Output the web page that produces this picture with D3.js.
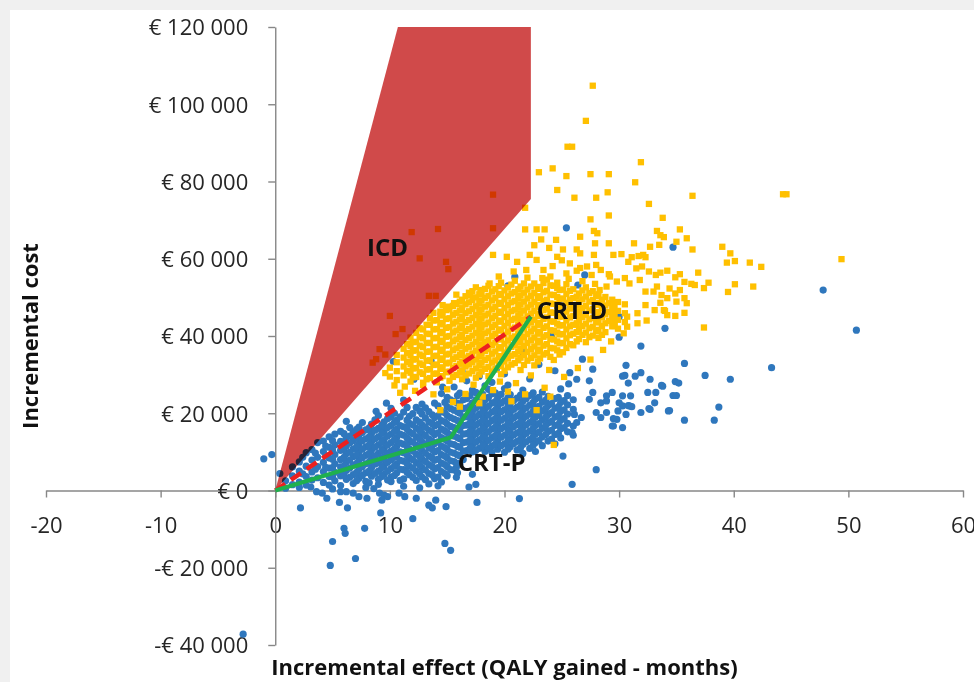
<!DOCTYPE html>
<html>
<head>
<meta charset="utf-8">
<script src="https://cdn.jsdelivr.net/npm/d3@7"></script>
<style>
  html, body { margin: 0; padding: 0; background: #f0f0f0; }
  svg { display: block; }
  text { font-family: "Open Sans", sans-serif; }
</style>
</head>
<body>
<svg id="chart" width="974" height="682"></svg>
<script>
// Axis ticks
const xTicks = [-20, -10, 0, 10, 20, 30, 40, 50, 60];
const yTicks = [-40000, -20000, 0, 20000, 40000, 60000, 80000, 100000, 120000];

// Probabilistic simulations, [incremental effect (months), incremental cost (k€)]
const crtpSims = [
  [-1.0,8.2],[-0.3,9.3],[0.4,4.4],[-2.8,-37.2],
  [2.2,-4.5],[3.6,-0.3],[4.1,-0.7],[4.5,-2.0],[5.6,-3.1],[6.3,-4.5],[5.7,-0.3],[6.2,-0.3],[6.8,-0.7],
  [7.3,-1.6],[8.0,-2.0],[9.1,-0.7],[9.5,-1.2],[9.8,-1.6],[9.3,-2.5],[9.2,-5.8],[10.8,-0.7],[11.3,-1.6],
  [12.3,-2.0],[12.0,-7.3],[13.4,-3.8],[13.7,-4.5],[14.0,-2.5],[14.9,-4.2],[17.6,-3.1],[21.3,-2.1],
  [5.0,-13.2],[6.0,-9.8],[6.1,-11.1],[7.8,-9.8],[7.0,-17.6],[4.8,-19.4],[14.8,-13.7],[15.3,-15.5],
  [3.1,0.9],[5.0,0.4],[8.6,0.5],[12.6,0.7],[14.2,1.2],[16.9,0.9],[17.5,1.6],[15.8,3.4],[15.8,6.0],
  [17.2,4.2],[25.9,1.6],[28.0,5.4],[25.1,8.9],
  [0.9,2.5],[0.9,0.6],[1.5,3.8],[1.5,1.5],[1.5,6.1],
  [2.1,2.2],[2.1,5.0],[2.1,0.8],[2.1,7.4],[2.7,3.6],[2.7,6.3],[2.7,1.4],[2.7,9.8],
  [3.2,4.8],[3.2,2.7],[3.2,7.9],[3.2,10.6],[3.7,3.3],[3.7,6.2],[3.7,8.6],[3.7,12.4],
  [4.2,4.9],[4.2,7.3],[4.2,2.1],[4.2,10.1],[4.2,12.8],
  [4.7,3.6],[4.7,5.8],[4.7,8.4],[4.7,11.2],[4.7,1.4],[4.7,13.9],
  [5.2,2.5],[5.2,4.7],[5.2,6.9],[5.2,9.3],[5.2,11.8],[5.2,14.6],
  [5.7,1.3],[5.7,3.8],[5.7,6.1],[5.7,8.0],[5.7,10.4],[5.7,12.7],[5.7,15.3],
  [6.2,2.9],[6.2,5.2],[6.2,7.4],[6.2,9.6],[6.2,11.5],[6.2,13.8],[6.2,17.9],
  [6.8,1.8],[6.8,4.1],[6.8,6.6],[6.8,8.8],[6.8,10.7],[6.8,12.9],[6.8,15.2],
  [7.3,3.2],[7.3,5.5],[7.3,7.8],[7.3,9.9],[7.3,12.1],[7.3,14.3],[7.3,16.4],
  [7.9,0.8],[7.9,2.4],[7.9,4.6],[7.9,6.9],[7.9,9.1],[7.9,11.3],[7.9,13.4],[7.9,15.7],
  [8.4,3.7],[8.4,5.9],[8.4,8.2],[8.4,10.5],[8.4,12.6],[8.4,14.8],[8.4,17.2],
  [9.0,1.6],[9.0,2.9],[9.0,5.0],[9.0,7.3],[9.0,9.6],[9.0,11.8],[9.0,13.9],[9.0,16.1],[9.0,19.4],
  [9.5,4.2],[9.5,6.5],[9.5,8.7],[9.5,10.9],[9.5,13.2],[9.5,15.4],[9.5,17.8],
  [10.1,2.3],[10.1,3.5],[10.1,5.7],[10.1,7.9],[10.1,10.2],[10.1,12.4],[10.1,14.6],[10.1,16.8],[10.1,19.1],[10.1,21.3],
  [10.6,4.6],[10.6,6.9],[10.6,9.2],[10.6,11.5],[10.6,13.7],[10.6,15.9],[10.6,18.2],
  [11.2,1.1],[11.2,3.0],[11.2,5.4],[11.2,7.6],[11.2,9.8],[11.2,12.0],[11.2,14.3],[11.2,16.5],[11.2,20.3],[11.2,23.4],
  [11.7,4.1],[11.7,6.3],[11.7,8.5],[11.7,10.8],[11.7,13.0],[11.7,15.2],[11.7,17.4],[11.7,19.2],
  [12.3,2.6],[12.3,5.0],[12.3,7.2],[12.3,9.4],[12.3,11.7],[12.3,13.9],[12.3,16.1],[12.3,18.3],[12.3,21.5],
  [12.8,3.5],[12.8,5.9],[12.8,8.1],[12.8,10.3],[12.8,12.6],[12.8,14.8],[12.8,17.0],[12.8,19.8],[12.8,22.4],
  [13.4,1.7],[13.4,4.4],[13.4,6.7],[13.4,8.9],[13.4,11.1],[13.4,13.4],[13.4,15.6],[13.4,17.8],[13.4,20.4],
  [13.9,3.1],[13.9,5.6],[13.9,7.8],[13.9,10.0],[13.9,12.2],[13.9,14.5],[13.9,16.7],[13.9,18.9],[13.9,22.6],
  [14.5,2.2],[14.5,4.9],[14.5,7.1],[14.5,9.3],[14.5,11.5],[14.5,13.7],[14.5,15.9],[14.5,18.1],[14.5,20.5],[14.5,25.1],
  [15.0,3.8],[15.0,6.2],[15.0,8.4],[15.0,10.6],[15.0,12.8],[15.0,15.0],[15.0,17.2],[15.0,19.4],[15.0,21.7],[15.0,24.1],
  [15.6,5.3],[15.6,7.5],[15.6,9.7],[15.6,11.9],[15.6,14.1],[15.6,16.3],[15.6,18.5],[15.6,20.8],[15.6,23.0],[15.6,26.8],
  [16.1,6.8],[16.1,9.0],[16.1,11.2],[16.1,13.4],[16.1,15.6],[16.1,17.8],[16.1,20.0],[16.1,22.3],[16.1,25.2],
  [16.7,10.3],[16.7,12.5],[16.7,14.7],[16.7,16.9],[16.7,19.1],[16.7,21.4],[16.7,23.8],[16.7,28.4],
  [17.2,10.0],[17.2,11.6],[17.2,13.8],[17.2,16.0],[17.2,18.2],[17.2,20.4],[17.2,22.7],[17.2,26.0],
  [17.8,10.9],[17.8,13.1],[17.8,15.3],[17.8,17.5],[17.8,19.7],[17.8,21.9],[17.8,24.3],[17.8,29.6],
  [18.3,10.1],[18.3,12.3],[18.3,14.5],[18.3,16.7],[18.3,18.9],[18.3,21.1],[18.3,23.4],[18.3,27.1],
  [18.9,9.9],[18.9,11.5],[18.9,13.7],[18.9,15.9],[18.9,18.1],[18.9,20.3],[18.9,22.6],[18.9,25.0],[18.9,28.0],
  [19.4,10.7],[19.4,12.9],[19.4,15.1],[19.4,17.3],[19.4,19.5],[19.4,21.7],[19.4,24.0],
  [20.0,9.9],[20.0,12.1],[20.0,14.3],[20.0,16.5],[20.0,18.7],[20.0,20.9],[20.0,23.2],[20.0,26.4],[20.0,30.2],
  [20.5,11.3],[20.5,13.5],[20.5,15.7],[20.5,17.9],[20.5,20.1],[20.5,22.4],[20.5,24.8],
  [21.1,10.5],[21.1,12.7],[21.1,14.9],[21.1,17.1],[21.1,19.3],[21.1,21.6],[21.1,23.9],
  [21.6,9.6],[21.6,11.9],[21.6,14.1],[21.6,16.3],[21.6,18.5],[21.6,20.8],[21.6,23.1],[21.6,26.0],
  [22.2,10.9],[22.2,13.2],[22.2,15.4],[22.2,17.6],[22.2,19.8],[22.2,22.1],[22.2,24.6],[22.2,28.9],
  [22.7,10.1],[22.7,12.4],[22.7,14.6],[22.7,16.8],[22.7,19.0],[22.7,21.3],[22.7,23.7],
  [23.3,11.6],[23.3,13.9],[23.3,16.1],[23.3,18.3],[23.3,20.6],[23.3,22.9],[23.3,25.5],
  [23.8,12.8],[23.8,15.3],[23.8,17.5],[23.8,19.7],[23.8,22.0],[23.8,24.4],
  [24.4,12.1],[24.4,14.5],[24.4,16.8],[24.4,19.0],[24.4,21.3],[24.4,23.8],[24.4,31.0],
  [24.9,13.6],[24.9,16.0],[24.9,18.2],[24.9,20.5],[24.9,22.8],[24.9,26.3],
  [25.5,15.2],[25.5,17.4],[25.5,19.8],[25.5,22.2],[25.5,24.6],
  [26.0,14.3],[26.0,16.7],[26.0,21.0],[26.0,23.5],
  [2.4,4.3],[2.4,8.6],[3.5,5.5],[3.5,9.7],[4.4,6.0],[4.4,9.0],[4.4,11.5],
  [5.0,3.5],[5.0,5.9],[5.0,8.1],[5.0,10.5],[5.0,12.9],
  [6.0,4.1],[6.0,6.3],[6.0,8.6],[6.0,10.9],[6.0,12.6],[6.0,14.7],
  [6.5,3.4],[6.5,5.8],[6.5,7.9],[6.5,9.9],[6.5,12.3],[6.5,14.1],[6.5,16.3],
  [7.1,2.5],[7.1,4.7],[7.1,7.0],[7.1,9.1],[7.1,11.3],[7.1,13.6],[7.1,15.8],
  [7.6,3.9],[7.6,6.2],[7.6,8.5],[7.6,10.7],[7.6,12.9],[7.6,15.0],[7.6,17.6],
  [8.2,2.0],[8.2,5.1],[8.2,7.4],[8.2,9.6],[8.2,11.8],[8.2,13.9],[8.2,16.2],
  [8.7,4.4],[8.7,6.8],[8.7,9.0],[8.7,11.2],[8.7,13.4],[8.7,15.6],[8.7,18.3],
  [9.3,3.6],[9.3,5.9],[9.3,8.1],[9.3,10.3],[9.3,12.5],[9.3,14.8],[9.3,16.9],
  [9.8,2.7],[9.8,5.0],[9.8,7.3],[9.8,9.6],[9.8,11.8],[9.8,14.1],[9.8,16.3],[9.8,18.6],
  [10.4,3.9],[10.4,6.3],[10.4,8.6],[10.4,10.8],[10.4,13.1],[10.4,15.3],[10.4,17.6],[10.4,20.0],
  [10.9,2.6],[10.9,5.5],[10.9,7.8],[10.9,10.0],[10.9,12.3],[10.9,14.6],[10.9,16.8],[10.9,19.1],
  [11.5,4.7],[11.5,7.0],[11.5,9.2],[11.5,11.4],[11.5,13.6],[11.5,15.9],[11.5,18.2],[11.5,21.5],
  [12.0,3.4],[12.0,5.8],[12.0,8.0],[12.0,10.2],[12.0,12.5],[12.0,14.7],[12.0,17.0],[12.0,19.9],
  [12.6,4.3],[12.6,6.6],[12.6,8.8],[12.6,11.1],[12.6,13.3],[12.6,15.5],[12.6,17.7],[12.6,20.6],
  [13.1,2.8],[13.1,5.3],[13.1,7.5],[13.1,9.7],[13.1,12.0],[13.1,14.2],[13.1,16.4],[13.1,18.8],[13.1,21.4],
  [13.7,4.0],[13.7,6.2],[13.7,8.4],[13.7,10.6],[13.7,12.8],[13.7,15.1],[13.7,17.3],[13.7,19.6],
  [14.2,3.5],[14.2,5.9],[14.2,8.1],[14.2,10.3],[14.2,12.6],[14.2,14.9],[14.2,17.1],[14.2,19.3],[14.2,21.9],
  [14.8,4.4],[14.8,6.7],[14.8,8.9],[14.8,11.1],[14.8,13.3],[14.8,15.5],[14.8,17.8],[14.8,20.1],[14.8,22.8],
  [15.3,5.4],[15.3,7.7],[15.3,9.9],[15.3,12.1],[15.3,14.4],[15.3,16.6],[15.3,18.9],[15.3,21.2],[15.3,23.5],
  [15.9,4.6],[15.9,7.0],[15.9,9.2],[15.9,11.4],[15.9,13.7],[15.9,15.9],[15.9,18.1],[15.9,20.4],[15.9,22.6],[15.9,24.6],
  [16.4,8.0],[16.4,10.2],[16.4,12.4],[16.4,14.6],[16.4,16.8],[16.4,19.0],[16.4,21.2],[16.4,23.5],
  [17.0,11.0],[17.0,13.1],[17.0,15.3],[17.0,17.5],[17.0,19.7],[17.0,21.9],[17.0,24.6],
  [17.5,10.4],[17.5,12.5],[17.5,14.7],[17.5,16.9],[17.5,19.1],[17.5,21.3],[17.5,23.5],[17.5,25.4],
  [18.1,11.6],[18.1,13.8],[18.1,16.0],[18.1,18.2],[18.1,20.4],[18.1,22.6],[18.1,24.9],
  [18.6,10.9],[18.6,13.0],[18.6,15.2],[18.6,17.4],[18.6,19.6],[18.6,21.8],[18.6,24.1],[18.6,26.2],
  [19.2,12.0],[19.2,14.2],[19.2,16.4],[19.2,18.6],[19.2,20.8],[19.2,23.0],[19.2,25.3],
  [19.7,11.6],[19.7,13.8],[19.7,16.0],[19.7,18.2],[19.7,20.4],[19.7,22.6],[19.7,24.9],
  [20.3,10.7],[20.3,12.9],[20.3,15.1],[20.3,17.3],[20.3,19.5],[20.3,21.7],[20.3,24.0],[20.3,27.3],
  [20.8,12.2],[20.8,14.4],[20.8,16.6],[20.8,18.8],[20.8,21.0],[20.8,23.3],
  [21.4,11.1],[21.4,13.3],[21.4,15.5],[21.4,17.7],[21.4,19.9],[21.4,22.2],[21.4,24.7],
  [21.9,12.6],[21.9,14.8],[21.9,17.0],[21.9,19.2],[21.9,21.4],[21.9,23.8],
  [22.5,11.7],[22.5,13.9],[22.5,16.1],[22.5,18.3],[22.5,20.5],[22.5,22.8],[22.5,25.3],
  [23.0,12.9],[23.0,15.1],[23.0,17.3],[23.0,19.5],[23.0,21.8],[23.0,24.1],
  [23.6,14.5],[23.6,16.8],[23.6,19.0],[23.6,21.2],[23.6,23.4],
  [24.1,13.3],[24.1,15.6],[24.1,17.9],[24.1,20.2],[24.1,22.5],
  [24.7,14.8],[24.7,17.1],[24.7,19.4],[24.7,21.7],[24.7,24.1],
  [25.2,16.3],[25.2,18.6],[25.2,20.9],[25.2,23.3],
  [26.8,34.0],[27.7,31.4],[30.6,32.4],[31.9,30.5],[31.4,29.6],[32.7,28.8],[30.3,29.6],[33.8,27.0],
  [29.4,25.4],[32.5,25.4],[33.2,25.4],[31.0,24.5],[34.3,20.6],[32.7,21.0],[31.9,20.2],[30.3,21.9],
  [30.9,21.9],[29.8,18.4],[29.4,16.7],[30.3,16.3],[27.7,25.4],[28.9,24.5],[28.4,22.7],[27.4,23.6],
  [28.0,20.2],[28.9,20.2],[28.4,18.9],[27.4,28.4],[26.3,28.8],[25.7,30.5],[26.1,19.7],[26.7,18.9],
  [26.3,17.6],[25.9,15.0],
  [34.7,63.0],[47.8,51.9],[50.7,41.5],[43.3,31.8],[34.0,42.0],[31.9,37.4],[30.0,45.0],[35.7,32.9],
  [37.5,29.8],[39.7,28.8],[30.5,29.8],[30.8,27.8],[33.7,27.2],[34.9,28.2],[35.2,27.8],[34.7,24.6],
  [35.0,24.6],[33.1,22.7],[32.6,21.2],[34.4,20.7],[30.3,24.5],[30.0,22.7],[30.8,22.0],[31.1,21.7],
  [28.9,23.2],[29.5,18.6],[29.5,16.7],[35.7,18.2],[38.3,18.2],[38.7,21.6],[29.9,20.6],[30.6,19.7],
  [25.4,68.0],[27.0,55.8],[30.0,39.7],[20.9,55.3],[20.3,53.0],[26.4,53.2],[24.1,40.0],[10.3,33.4],
  [8.8,20.5],[9.7,22.6],[12.1,28.8],[13.6,33.5],[14.6,26.8],[16.3,30.9],[19.3,31.5],[21.6,35.8],
  [23.0,32.6],[25.6,27.6]
];

const crtdSims = [
  // dense core
  [10.0,29.5],[10.0,31.8],
  [10.6,28.6],[10.6,30.9],[10.6,33.2],[10.6,35.1],
  [11.2,29.8],[11.2,32.1],[11.2,34.4],[11.2,36.7],
  [11.8,28.2],[11.8,30.5],[11.8,32.8],[11.8,35.0],[11.8,37.4],[11.8,39.6],
  [12.3,29.4],[12.3,31.7],[12.3,34.0],[12.3,36.3],[12.3,38.5],[12.3,40.8],
  [12.9,27.9],[12.9,30.2],[12.9,32.5],[12.9,34.8],[12.9,37.1],[12.9,39.4],[12.9,41.7],
  [13.5,29.1],[13.5,31.4],[13.5,33.7],[13.5,36.0],[13.5,38.2],[13.5,40.5],[13.5,42.9],[13.5,44.6],
  [14.1,28.0],[14.1,30.3],[14.1,32.6],[14.1,34.9],[14.1,37.2],[14.1,39.5],[14.1,41.8],[14.1,44.1],
  [14.6,29.6],[14.6,31.9],[14.6,34.2],[14.6,36.5],[14.6,38.8],[14.6,41.1],[14.6,43.4],[14.6,45.8],[14.6,48.0],
  [15.2,28.4],[15.2,30.8],[15.2,33.1],[15.2,35.4],[15.2,37.7],[15.2,40.0],[15.2,42.3],[15.2,44.6],[15.2,46.9],
  [15.8,29.9],[15.8,32.2],[15.8,34.5],[15.8,36.8],[15.8,39.1],[15.8,41.4],[15.8,43.7],[15.8,46.0],[15.8,48.3],[15.8,50.7],
  [16.3,28.8],[16.3,31.1],[16.3,33.4],[16.3,35.7],[16.3,38.0],[16.3,40.3],[16.3,42.6],[16.3,44.9],[16.3,47.2],[16.3,49.4],
  [16.9,30.3],[16.9,32.6],[16.9,34.9],[16.9,37.2],[16.9,39.5],[16.9,41.8],[16.9,44.1],[16.9,46.4],[16.9,48.7],[16.9,51.2],
  [17.5,29.2],[17.5,31.6],[17.5,33.9],[17.5,36.2],[17.5,38.5],[17.5,40.8],[17.5,43.1],[17.5,45.4],[17.5,47.7],[17.5,50.0],[17.5,52.6],
  [18.0,30.8],[18.0,33.1],[18.0,35.4],[18.0,37.7],[18.0,40.0],[18.0,42.3],[18.0,44.6],[18.0,46.9],[18.0,49.2],[18.0,51.4],
  [18.6,29.6],[18.6,32.0],[18.6,34.3],[18.6,36.6],[18.6,38.9],[18.6,41.2],[18.6,43.5],[18.6,45.8],[18.6,48.1],[18.6,50.4],[18.6,53.0],
  [19.2,31.4],[19.2,33.7],[19.2,36.0],[19.2,38.3],[19.2,40.6],[19.2,42.9],[19.2,45.2],[19.2,47.5],[19.2,49.8],[19.2,52.1],
  [19.7,30.1],[19.7,32.5],[19.7,34.8],[19.7,37.1],[19.7,39.4],[19.7,41.7],[19.7,44.0],[19.7,46.3],[19.7,48.6],[19.7,50.9],[19.7,53.8],
  [20.3,31.9],[20.3,34.2],[20.3,36.5],[20.3,38.8],[20.3,41.1],[20.3,43.4],[20.3,45.7],[20.3,48.0],[20.3,50.3],[20.3,52.6],
  [20.9,33.0],[20.9,35.3],[20.9,37.6],[20.9,39.9],[20.9,42.2],[20.9,44.5],[20.9,46.8],[20.9,49.1],[20.9,51.4],[20.9,54.3],
  [21.4,31.2],[21.4,34.4],[21.4,36.7],[21.4,39.0],[21.4,41.3],[21.4,43.6],[21.4,45.9],[21.4,48.2],[21.4,50.5],[21.4,52.8],
  [22.0,33.6],[22.0,35.9],[22.0,38.2],[22.0,40.5],[22.0,42.8],[22.0,45.1],[22.0,47.4],[22.0,49.7],[22.0,52.0],[22.0,55.1],
  [22.6,32.4],[22.6,35.0],[22.6,37.3],[22.6,39.6],[22.6,41.9],[22.6,44.2],[22.6,46.5],[22.6,48.8],[22.6,51.1],[22.6,53.6],
  [23.1,34.2],[23.1,36.5],[23.1,38.8],[23.1,41.1],[23.1,43.4],[23.1,45.7],[23.1,48.0],[23.1,50.3],[23.1,52.7],
  [23.7,35.6],[23.7,37.9],[23.7,40.2],[23.7,42.5],[23.7,44.8],[23.7,47.1],[23.7,49.4],[23.7,51.7],[23.7,54.6],
  [24.3,33.8],[24.3,36.8],[24.3,39.1],[24.3,41.4],[24.3,43.7],[24.3,46.0],[24.3,48.3],[24.3,50.6],[24.3,53.0],
  [24.8,35.2],[24.8,38.1],[24.8,40.4],[24.8,42.7],[24.8,45.0],[24.8,47.3],[24.8,49.6],[24.8,51.9],
  [25.4,36.9],[25.4,39.4],[25.4,41.7],[25.4,44.0],[25.4,46.3],[25.4,48.6],[25.4,50.9],[25.4,53.4],
  [26.0,37.6],[26.0,40.6],[26.0,42.9],[26.0,45.2],[26.0,47.5],[26.0,49.8],[26.0,52.1],
  [26.5,39.2],[26.5,41.8],[26.5,44.1],[26.5,46.4],[26.5,48.7],[26.5,51.0],
  [27.1,38.4],[27.1,40.9],[27.1,43.2],[27.1,45.5],[27.1,47.8],[27.1,50.2],[27.1,52.6],
  [27.7,40.1],[27.7,42.4],[27.7,44.7],[27.7,47.0],[27.7,49.3],[27.7,51.6],
  [28.2,39.5],[28.2,41.6],[28.2,43.9],[28.2,46.2],[28.2,48.5],[28.2,50.8],
  [28.8,41.0],[28.8,43.3],[28.8,45.6],[28.8,47.9],[28.8,50.1],
  [29.4,42.5],[29.4,44.8],[29.4,47.1],[29.4,49.4],
  [29.9,41.9],[29.9,44.2],[29.9,46.5],[29.9,48.8],
  [30.5,43.6],[30.5,45.9],[30.5,48.2],
  [11.5,31.0],[11.5,33.3],[11.5,35.6],[11.5,37.9],
  [12.0,29.3],[12.0,31.6],[12.0,33.9],[12.0,36.2],[12.0,38.4],
  [12.6,30.6],[12.6,32.9],[12.6,35.2],[12.6,37.5],[12.6,39.7],[12.6,42.0],
  [13.2,28.8],[13.2,31.3],[13.2,33.6],[13.2,35.9],[13.2,38.2],[13.2,40.6],[13.2,42.9],
  [13.8,30.2],[13.8,32.5],[13.8,34.8],[13.8,37.1],[13.8,39.4],[13.8,41.7],[13.8,44.0],[13.8,46.0],
  [14.4,29.2],[14.4,31.5],[14.4,33.8],[14.4,36.1],[14.4,38.4],[14.4,40.7],[14.4,43.0],[14.4,45.3],
  [14.9,30.6],[14.9,32.9],[14.9,35.2],[14.9,37.5],[14.9,39.8],[14.9,42.1],[14.9,44.4],[14.9,46.7],
  [15.5,29.4],[15.5,31.7],[15.5,34.0],[15.5,36.3],[15.5,38.6],[15.5,40.9],[15.5,43.2],[15.5,45.5],[15.5,47.8],
  [16.1,30.5],[16.1,32.8],[16.1,35.1],[16.1,37.4],[16.1,39.7],[16.1,42.0],[16.1,44.3],[16.1,46.6],[16.1,48.9],
  [16.6,29.8],[16.6,32.1],[16.6,34.4],[16.6,36.7],[16.6,39.0],[16.6,41.3],[16.6,43.6],[16.6,45.9],[16.6,48.2],[16.6,50.3],
  [17.2,30.9],[17.2,33.2],[17.2,35.5],[17.2,37.8],[17.2,40.1],[17.2,42.4],[17.2,44.7],[17.2,47.0],[17.2,49.3],[17.2,51.6],
  [17.8,30.0],[17.8,32.4],[17.8,34.7],[17.8,37.0],[17.8,39.3],[17.8,41.6],[17.8,43.9],[17.8,46.2],[17.8,48.5],[17.8,50.8],
  [18.3,31.5],[18.3,33.8],[18.3,36.1],[18.3,38.4],[18.3,40.7],[18.3,43.0],[18.3,45.3],[18.3,47.6],[18.3,49.9],[18.3,52.2],
  [18.9,30.8],[18.9,33.1],[18.9,35.4],[18.9,37.7],[18.9,40.0],[18.9,42.3],[18.9,44.6],[18.9,46.9],[18.9,49.2],[18.9,51.5],
  [19.5,32.2],[19.5,34.5],[19.5,36.8],[19.5,39.1],[19.5,41.4],[19.5,43.7],[19.5,46.0],[19.5,48.3],[19.5,50.6],[19.5,52.9],
  [20.0,31.0],[20.0,33.4],[20.0,35.7],[20.0,38.0],[20.0,40.3],[20.0,42.6],[20.0,44.9],[20.0,47.2],[20.0,49.5],[20.0,51.8],
  [20.6,32.6],[20.6,34.9],[20.6,37.2],[20.6,39.5],[20.6,41.8],[20.6,44.1],[20.6,46.4],[20.6,48.7],[20.6,51.0],[20.6,53.3],
  [21.2,33.7],[21.2,36.0],[21.2,38.3],[21.2,40.6],[21.2,42.9],[21.2,45.2],[21.2,47.5],[21.2,49.8],[21.2,52.1],
  [21.7,32.5],[21.7,35.1],[21.7,37.4],[21.7,39.7],[21.7,42.0],[21.7,44.3],[21.7,46.6],[21.7,48.9],[21.7,51.2],[21.7,53.6],
  [22.3,34.3],[22.3,36.6],[22.3,38.9],[22.3,41.2],[22.3,43.5],[22.3,45.8],[22.3,48.1],[22.3,50.4],[22.3,52.8],
  [22.9,33.4],[22.9,36.0],[22.9,38.3],[22.9,40.6],[22.9,42.9],[22.9,45.2],[22.9,47.5],[22.9,49.8],[22.9,52.2],
  [23.4,35.2],[23.4,37.5],[23.4,39.8],[23.4,42.1],[23.4,44.4],[23.4,46.7],[23.4,49.0],[23.4,51.3],[23.4,53.7],
  [24.0,34.6],[24.0,36.9],[24.0,39.2],[24.0,41.5],[24.0,43.8],[24.0,46.1],[24.0,48.4],[24.0,50.7],[24.0,53.1],
  [24.6,36.3],[24.6,38.6],[24.6,40.9],[24.6,43.2],[24.6,45.5],[24.6,47.8],[24.6,50.1],[24.6,52.4],
  [25.1,35.8],[25.1,38.2],[25.1,40.5],[25.1,42.8],[25.1,45.1],[25.1,47.4],[25.1,49.7],[25.1,52.0],
  [25.7,37.9],[25.7,40.2],[25.7,42.5],[25.7,44.8],[25.7,47.1],[25.7,49.4],[25.7,51.7],
  [26.3,38.6],[26.3,41.0],[26.3,43.3],[26.3,45.6],[26.3,47.9],[26.3,50.2],
  [26.8,40.3],[26.8,42.6],[26.8,44.9],[26.8,47.2],[26.8,49.5],[26.8,51.8],
  [27.4,39.7],[27.4,42.0],[27.4,44.3],[27.4,46.6],[27.4,48.9],[27.4,51.1],
  [28.0,41.2],[28.0,43.5],[28.0,45.8],[28.0,48.1],[28.0,50.3],
  [28.5,40.3],[28.5,42.6],[28.5,44.9],[28.5,47.2],[28.5,49.4],
  [29.1,43.9],[29.1,46.2],[29.1,48.5],
  [29.6,43.4],[29.6,45.7],[29.6,48.0],
  // lower fringe mixed with CRT-P
  [12.2,25.8],[12.9,27.3],[13.8,24.9],[14.4,20.8],[15.5,22.9],[16.1,21.7],[15.0,26.2],[16.6,25.0],
  [17.3,27.4],[18.1,24.3],[19.0,26.0],[20.3,25.6],[19.6,28.2],[21.0,27.8],[21.8,24.9],[22.8,20.8],
  [23.5,26.6],[24.0,24.3],[24.3,11.8],[25.2,29.4],[26.4,31.7],[27.5,33.9],[28.6,36.4],[29.3,38.6],
  [23.9,31.2],[22.3,29.8],[20.6,23.1],[17.8,22.6],[11.3,26.9],[10.4,27.2],[9.6,30.4],[10.9,25.3],
  // upper and right spread
  [19.0,61.0],[20.2,60.5],[21.1,59.2],[22.2,61.0],[22.8,59.7],[23.4,57.1],[24.6,60.5],[25.7,58.8],
  [26.6,61.4],[25.4,56.2],[24.0,55.4],[21.9,57.1],[20.8,56.7],[19.5,55.4],[18.7,53.6],[17.9,51.9],
  [17.0,50.6],[15.6,48.5],[15.0,47.6],[14.4,46.3],
  [22.6,63.5],[23.2,65.0],[23.9,62.8],[24.5,64.9],[24.2,58.1],[25.0,59.6],[26.3,56.9],[27.6,55.8],
  [28.4,57.1],[26.8,54.2],[27.9,53.5],[29.1,56.0],[25.6,54.8],[24.6,53.8],[23.3,55.0],
  [33.9,65.6],[35.0,64.4],[36.4,62.4],[39.0,63.1],[39.7,61.4],[39.4,59.0],[40.1,59.4],[41.4,59.0],
  [42.4,57.9],[41.7,52.8],[40.1,53.4],[39.5,51.4],[37.8,53.8],[36.9,56.4],[37.4,52.4],[37.4,42.2],
  [34.9,45.2],[35.7,46.0],[36.3,53.5],[36.6,53.2],[27.9,64.0],[29.1,64.0],[31.3,64.0],[32.7,63.1],
  [33.5,63.6],[25.1,62.4],[26.3,62.4],[27.8,61.0],[29.5,61.0],[30.2,61.2],[31.1,60.4],[31.7,60.7],
  [32.3,60.4],[26.6,57.6],[27.2,58.0],[28.0,58.4],[30.8,59.2],[31.5,57.5],[32.0,58.0],[32.6,56.7],
  [33.2,55.8],[33.6,56.4],[34.2,56.9],[34.9,55.2],[35.3,56.0],[29.2,55.4],[29.8,54.1],[30.5,55.0],
  [30.9,53.6],[28.9,52.8],[28.3,51.9],[31.8,54.5],[32.3,51.5],[33.0,51.5],[33.3,52.8],[33.7,50.6],
  [34.4,52.3],[34.2,49.8],[34.9,51.0],[35.0,48.9],[35.7,49.8],[35.9,48.5],[32.3,48.0],[33.1,46.7],
  [33.9,46.7],[34.2,45.4],[31.6,45.9],[30.7,45.0],[31.6,43.3],[30.7,42.4],[32.4,44.0],[30.4,40.7],
  [29.6,42.6],[49.4,59.9],[35.7,54.0],[35.3,51.9],[34.0,46.5],[33.6,48.6],[32.1,61.0],
  [27.7,104.8],[27.1,95.7],[25.5,89.0],[25.9,89.0],[23.0,82.4],[24.2,83.4],[25.4,81.4],[27.5,81.9],
  [29.1,81.9],[31.9,85.0],[31.4,79.8],[24.6,77.8],[26.1,75.8],[28.0,75.8],[29.0,77.2],[36.4,76.3],
  [32.6,74.2],[44.3,76.7],[44.6,76.7],[21.8,73.2],[27.5,70.2],[29.1,71.2],[33.8,70.6],[21.8,67.6],
  [22.8,67.6],[23.5,67.6],[26.6,65.7],[27.8,67.2],[28.1,66.6],[33.3,67.2],[33.6,66.1],[35.3,67.6],
  [35.9,65.3],
  // inside the ICD region
  [19.0,76.6],[14.2,67.7],[11.9,66.9],[19.0,67.9],[12.6,60.1],[14.9,59.2],[15.1,57.3],[14.0,50.4],
  [13.4,50.4],[10.0,45.2],[11.1,41.8],[10.5,40.5],[8.5,33.1],[8.8,34.0],[9.1,36.6],[9.6,35.2]
];

// ICD shaded region outline, [effect (months), cost (k€)]
const icdRegion = [[0, 0], [10.7, 120], [22.3, 120], [22.3, 75.5]];

// Mean results per strategy, [effect (months), cost (k€)]
const origin = [0, 0];
const crtpMean = [15.3, 13.7];
const crtdMean = [22.3, 45.0];
const icdLabelAt = [8.0, 60.7];

const W = 974, H = 682;
const svg = d3.select("#chart");

// white chart area on the grey page frame
svg.append("rect").attr("x", 10).attr("y", 10)
  .attr("width", W - 10).attr("height", H - 10).attr("fill", "#ffffff");

const x = d3.scaleLinear().domain([-20, 60]).range([46, 963]);
const y = d3.scaleLinear().domain([-40000, 120000]).range([645, 27]);
const px = d => x(d[0]);
const py = d => y(d[1] * 1000);

const euro = v => {
  const s = d3.format(",")(Math.abs(v)).replace(/,/g, " ");
  return (v < 0 ? "-€ " : "€ ") + s;
};

const axisColor = "#878787";
const textColor = "#262626";

// horizontal axis at zero cost
const gx = svg.append("g").attr("transform", `translate(0,${y(0)})`)
  .call(d3.axisBottom(x).tickValues(xTicks).tickFormat(d => String(d))
    .tickSize(7).tickSizeOuter(0).tickPadding(20));
// vertical axis at zero effect
const gy = svg.append("g").attr("transform", `translate(${x(0)},0)`)
  .call(d3.axisLeft(y).tickValues(yTicks).tickFormat(euro)
    .tickSize(7).tickSizeOuter(0).tickPadding(20));

[gx, gy].forEach(g => {
  g.select(".domain").attr("stroke", axisColor).attr("stroke-width", 1.4);
  g.selectAll(".tick line").attr("stroke", axisColor).attr("stroke-width", 1.4);
  g.selectAll(".tick text").attr("fill", textColor)
    .style("font-family", "'Open Sans', sans-serif").style("font-size", "22px");
});
gy.selectAll(".tick text").attr("dy", "0.36em");

// CRT-P simulations
svg.append("g").selectAll("circle").data(crtpSims).join("circle")
  .attr("cx", px).attr("cy", py).attr("r", 3.6).attr("fill", "#2f77bd");

// CRT-D simulations
const sq = 6.3;
svg.append("g").selectAll("rect").data(crtdSims).join("rect")
  .attr("x", d => px(d) - sq / 2).attr("y", d => py(d) - sq / 2)
  .attr("width", sq).attr("height", sq).attr("fill", "#ffc000");

// ICD region
svg.append("path")
  .attr("d", d3.line().x(px).y(py)(icdRegion) + "Z")
  .attr("fill", "#d04a4a")
  .style("mix-blend-mode", "multiply");

// ICER from origin to CRT-D
svg.append("path")
  .attr("d", d3.line().x(px).y(py)([origin, crtdMean]))
  .attr("fill", "none").attr("stroke", "#ec2020").attr("stroke-width", 4.5)
  .attr("stroke-dasharray", "12 7");

// efficiency frontier
svg.append("path")
  .attr("d", d3.line().x(px).y(py)([origin, crtpMean, crtdMean]))
  .attr("fill", "none").attr("stroke", "#1fb04e").attr("stroke-width", 4.2)
  .attr("stroke-linejoin", "round");

// strategy labels
const labelStyle = sel => sel.attr("fill", "#111").style("font-weight", 700).style("font-size", "24px");
svg.append("text").attr("x", px(icdLabelAt)).attr("y", py(icdLabelAt)).text("ICD").call(labelStyle);
svg.append("text").attr("x", px(crtdMean) + 6).attr("y", py(crtdMean) + 2).text("CRT-D").call(labelStyle);
svg.append("text").attr("x", px(crtpMean) + 7).attr("y", py(crtpMean) + 33).text("CRT-P").call(labelStyle);

// axis titles
svg.append("text")
  .attr("transform", `translate(38,${(y.range()[0] + y.range()[1]) / 2}) rotate(-90)`)
  .attr("text-anchor", "middle").attr("fill", "#111")
  .style("font-weight", 700).style("font-size", "22px")
  .text("Incremental cost");
svg.append("text")
  .attr("x", (x.range()[0] + x.range()[1]) / 2).attr("y", 675)
  .attr("text-anchor", "middle").attr("fill", "#111")
  .style("font-weight", 700).style("font-size", "22px")
  .text("Incremental effect (QALY gained - months)");
</script>
</body>
</html>
